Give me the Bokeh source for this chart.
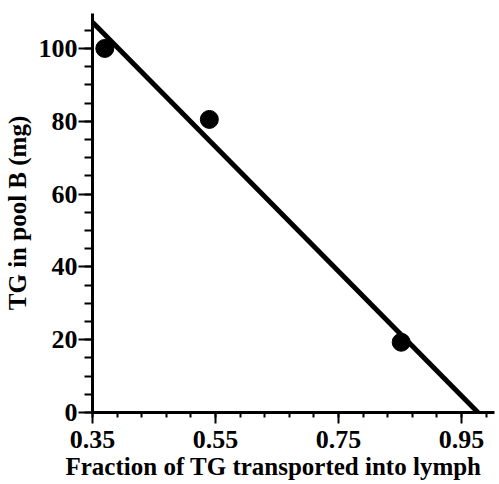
import numpy as np
from bokeh.plotting import figure
from bokeh.models import FixedTicker, Range1d, Title
from bokeh.embed import file_html
from bokeh.resources import INLINE

# ---- data ----
fraction = [0.37, 0.54, 0.852]          # fraction of TG transported into lymph
tg_pool_b = [100.0, 80.5, 19.3]         # TG in pool B (mg)

x_major = [0.35, 0.55, 0.75, 0.95]
x_major_labels = ["0.35", "0.55", "0.75", "0.95"]
x_minor = [0.35, 0.39, 0.43, 0.47, 0.51, 0.55, 0.59, 0.63, 0.67, 0.71, 0.75,
           0.79, 0.83, 0.87, 0.91, 0.95, 0.99]
y_major = [0, 20, 40, 60, 80, 100]
y_minor = [0, 5, 10, 15, 20, 25, 30, 35, 40, 45, 50, 55, 60, 65, 70, 75, 80,
           85, 90, 95, 100, 105]

x_title = "Fraction of TG transported into lymph"
y_title = "TG in pool B (mg)"

X_START, X_END = 0.35, 1.0037
Y_START, Y_END = 0.0, 109.6

# least-squares regression line through the points, drawn from the axis to y = 0
slope, intercept = np.polyfit(fraction, tg_pool_b, 1)
fit_x = [X_START, -intercept / slope]
fit_y = [slope * X_START + intercept, 0.0]

FONT = "Liberation Serif"

p = figure(width=496, height=484,
           x_range=Range1d(X_START, X_END), y_range=Range1d(Y_START, Y_END),
           output_backend="svg", toolbar_location=None,
           min_border_left=92, min_border_right=2,
           min_border_top=13, min_border_bottom=72)

p.background_fill_color = "white"
p.border_fill_color = "white"
p.outline_line_color = None
p.xgrid.visible = False
p.ygrid.visible = False

p.line(fit_x, fit_y, line_width=5, color="black", line_cap="butt")
p.scatter(fraction, tg_pool_b, size=18, color="black")

for ax in (p.xaxis[0], p.yaxis[0]):
    ax.axis_line_width = 3
    ax.axis_line_color = "black"
    ax.major_tick_line_width = 2
    ax.minor_tick_line_width = 2
    ax.major_tick_line_color = "black"
    ax.minor_tick_line_color = "black"
    ax.major_tick_in = 0
    ax.minor_tick_in = 0
    ax.major_label_text_font = FONT
    ax.major_label_text_font_style = "bold"
    ax.major_label_text_font_size = "26px"
    ax.major_label_text_color = "black"

xa = p.xaxis[0]
xa.ticker = FixedTicker(ticks=x_major, minor_ticks=x_minor)
xa.major_label_overrides = {t: s for t, s in zip(x_major, x_major_labels)}
xa.major_tick_out = 11
xa.minor_tick_out = 5
xa.major_label_standoff = 7

ya = p.yaxis[0]
ya.ticker = FixedTicker(ticks=y_major, minor_ticks=y_minor)
ya.major_tick_out = 14
ya.minor_tick_out = 8
ya.major_label_standoff = 1
ya.axis_label = y_title
ya.axis_label_text_font = FONT
ya.axis_label_text_font_style = "bold"
ya.axis_label_text_font_size = "25px"
ya.axis_label_text_color = "black"
ya.axis_label_standoff = 5

# thin blank spacer between the x axis and its title
p.add_layout(Title(text=" ", text_font_size="1px", standoff=5,
                   text_color="white"), "below")
p.add_layout(Title(text=x_title, align="left", offset=-27, standoff=-12,
                   vertical_align="top", text_font=FONT,
                   text_font_style="bold", text_font_size="25px",
                   text_color="black"), "below")

open("out.html", "w").write(file_html(p, INLINE))
